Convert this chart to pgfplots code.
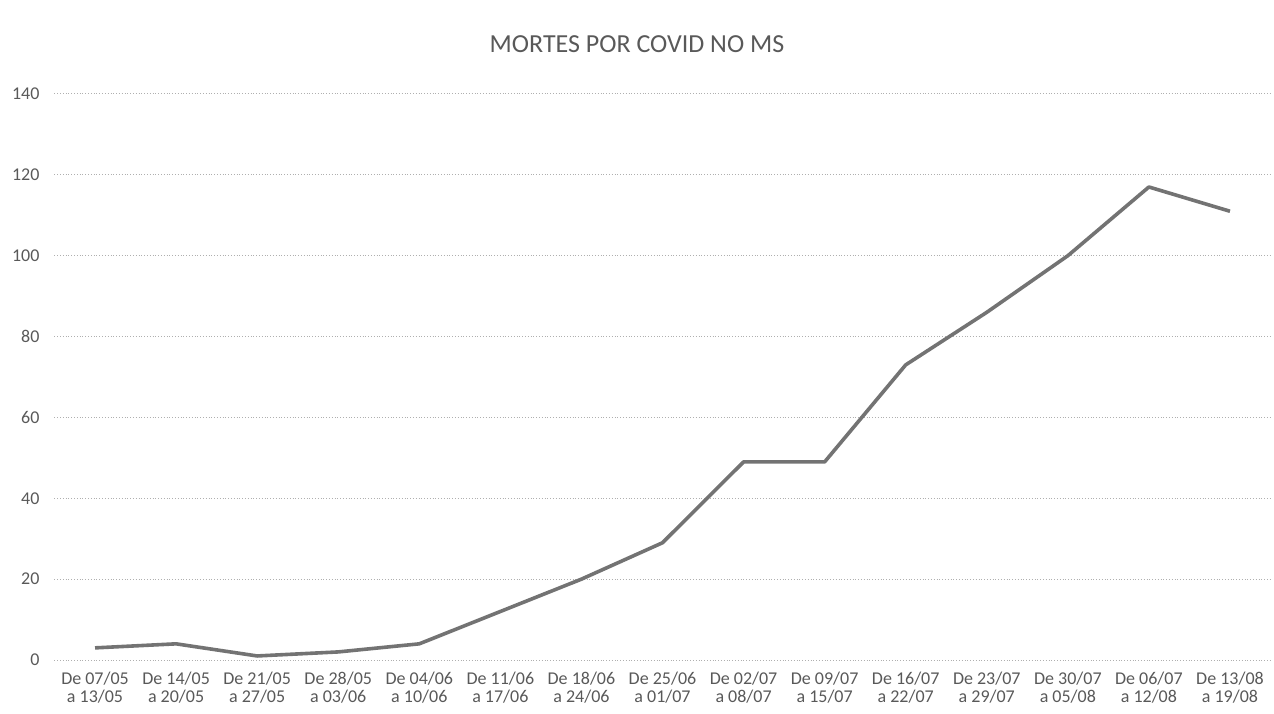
\documentclass[border=0pt]{standalone}
\usepackage{pgfplots}
\pgfplotsset{compat=1.18}
\usepackage{fontspec}
\setmainfont{Carlito}
\definecolor{txt}{RGB}{89,89,89}
\definecolor{lin}{RGB}{115,115,115}
\definecolor{grd}{RGB}{175,175,175}
\begin{document}
\begin{tikzpicture}[x=1pt,y=1pt]
\path[use as bounding box] (0,0) rectangle (637,356.5);
\node[text=txt,font=\fontsize{13}{15}\selectfont] at (318.5,334.5) {MORTES POR COVID NO MS};
\begin{axis}[
  at={(27.25pt,26.5pt)}, anchor=south west,
  scale only axis, width=608pt, height=283pt,
  xmin=-0.5, xmax=14.5, ymin=0, ymax=140,
  ytick={0,20,...,140},
  xtick={0,...,14},
  xticklabels={
    {De 07/05\\a 13/05},{De 14/05\\a 20/05},{De 21/05\\a 27/05},{De 28/05\\a 03/06},
    {De 04/06\\a 10/06},{De 11/06\\a 17/06},{De 18/06\\a 24/06},{De 25/06\\a 01/07},
    {De 02/07\\a 08/07},{De 09/07\\a 15/07},{De 16/07\\a 22/07},{De 23/07\\a 29/07},
    {De 30/07\\a 05/08},{De 06/07\\a 12/08},{De 13/08\\a 19/08}},
  axis line style={draw=none},
  tick style={draw=none},
  ymajorgrids,
  major grid style={grd, densely dotted, line width=0.5pt},
  /pgf/number format/assume math mode=true,
  ticklabel style={text=txt, font=\fontsize{9}{9}\selectfont},
  xticklabel style={align=center, yshift=-5pt, inner sep=1pt},
  yticklabel style={xshift=-4pt},
]
\addplot[lin, line width=1.8pt, line join=round, mark=none] coordinates {
  (0,3) (1,4) (2,1) (3,2) (4,4) (5,12) (6,20) (7,29)
  (8,49) (9,49) (10,73) (11,86) (12,100) (13,117) (14,111)
};
\end{axis}
\end{tikzpicture}
\end{document}
